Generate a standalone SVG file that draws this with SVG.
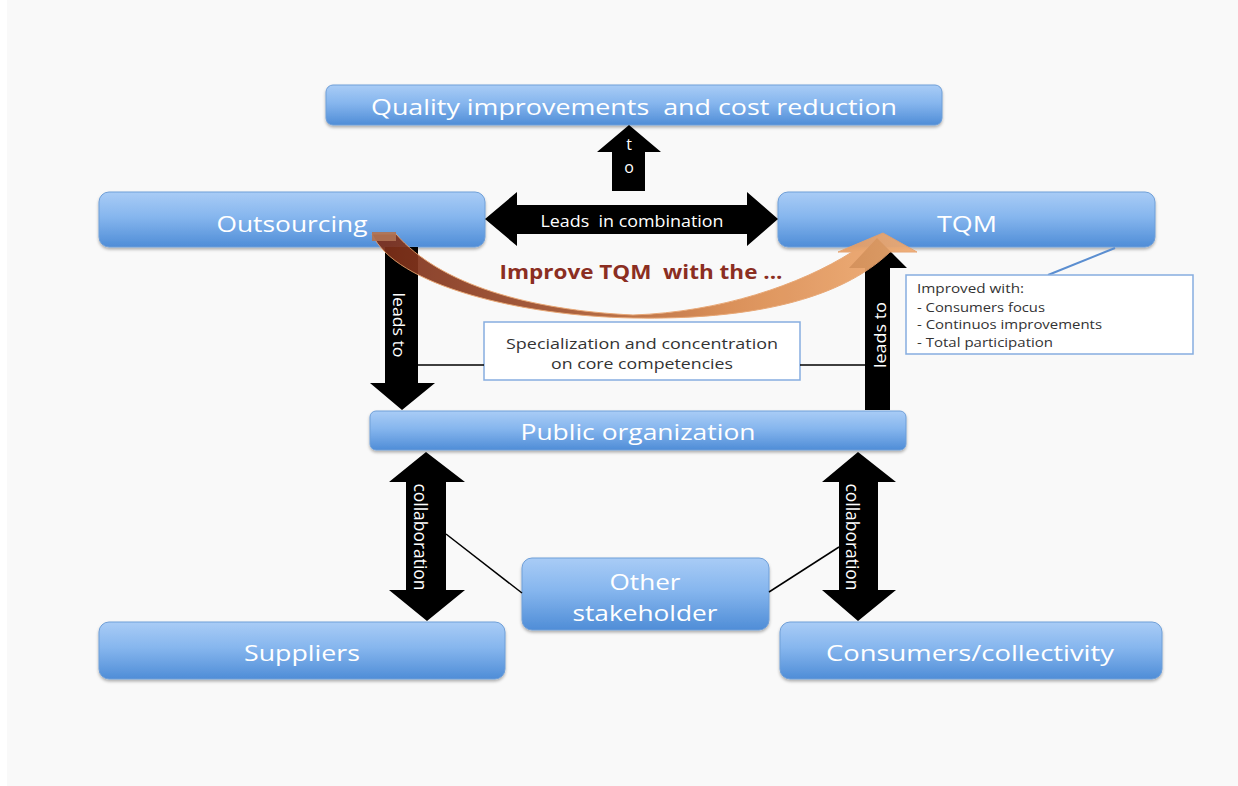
<svg xmlns="http://www.w3.org/2000/svg" width="1238" height="786" viewBox="0 0 1238 786">
<style>
text{white-space:pre}
.box{fill:url(#boxGrad);stroke:#6f9fd8;stroke-width:1;filter:url(#shadow)}
.wbox{fill:#ffffff;stroke:#86ade0;stroke-width:1.5}
.lbl{font-family:"Open Sans","Liberation Sans",sans-serif;fill:#ffffff;text-anchor:middle;font-size:21px}
.arr{fill:#000000}
.alb{font-family:"Open Sans","Liberation Sans",sans-serif;fill:#ffffff;text-anchor:middle;font-size:16px}
.note{font-family:"Open Sans","Liberation Sans",sans-serif;fill:#333333;font-size:15px}
.link{stroke:#000000;stroke-width:1.5;fill:none}
</style>
<defs>
<linearGradient id="boxGrad" x1="0" y1="0" x2="0" y2="1">
<stop offset="0" stop-color="#a9ccf6"/>
<stop offset="0.45" stop-color="#86b6ee"/>
<stop offset="1" stop-color="#4f8dd7"/>
</linearGradient>
<linearGradient id="curveGrad" gradientUnits="userSpaceOnUse" x1="372" y1="0" x2="917" y2="0">
<stop offset="0" stop-color="#7a2c18"/>
<stop offset="0.35" stop-color="#a3532e"/>
<stop offset="0.65" stop-color="#d8884c"/>
<stop offset="1" stop-color="#f0ab72"/>
</linearGradient>
<filter id="shadow" x="-5%" y="-20%" width="110%" height="150%">
<feDropShadow dx="0" dy="2" stdDeviation="1.5" flood-color="#000000" flood-opacity="0.3"/>
</filter>
</defs>
<rect x="7" y="0" width="1231" height="786" fill="#f9f9f9"/>

<g id="node-quality">
<rect class="box" x="326" y="85" width="616" height="40" rx="7"/>
<text class="lbl" x="634" y="115" textLength="526" lengthAdjust="spacingAndGlyphs">Quality improvements  and cost reduction</text>
</g>
<g id="node-outsourcing">
<rect class="box" x="99" y="192" width="386" height="55" rx="10"/>
<text class="lbl" x="292" y="232" textLength="151" lengthAdjust="spacingAndGlyphs">Outsourcing</text>
</g>
<g id="node-tqm">
<rect class="box" x="778" y="192" width="377" height="55" rx="10"/>
<text class="lbl" x="967" y="232" textLength="60" lengthAdjust="spacingAndGlyphs">TQM</text>
</g>
<g id="node-public">
<rect class="box" x="370" y="411" width="536" height="39" rx="6"/>
<text class="lbl" x="638" y="440" textLength="235" lengthAdjust="spacingAndGlyphs">Public organization</text>
</g>
<g id="node-other">
<rect class="box" x="522" y="558" width="247" height="72" rx="10"/>
<text class="lbl" x="645" y="590" textLength="71" lengthAdjust="spacingAndGlyphs">Other</text>
<text class="lbl" x="645" y="621" textLength="145" lengthAdjust="spacingAndGlyphs">stakeholder</text>
</g>
<g id="node-suppliers">
<rect class="box" x="99" y="622" width="406" height="57" rx="10"/>
<text class="lbl" x="302" y="661" textLength="116" lengthAdjust="spacingAndGlyphs">Suppliers</text>
</g>
<g id="node-consumers">
<rect class="box" x="780" y="622" width="382" height="57" rx="10"/>
<text class="lbl" x="970" y="661" textLength="288" lengthAdjust="spacingAndGlyphs">Consumers/collectivity</text>
</g>
<g id="node-specialization">
<rect class="wbox" x="484" y="322" width="316" height="58"/>
<text class="note" x="642" y="349" text-anchor="middle" textLength="272" lengthAdjust="spacingAndGlyphs">Specialization and concentration</text>
<text class="note" x="642" y="369" text-anchor="middle" textLength="182" lengthAdjust="spacingAndGlyphs">on core competencies</text>
</g>
<g id="node-improved">
<line x1="1048" y1="275" x2="1115" y2="248" stroke="#5b8ed0" stroke-width="2"/>
<rect class="wbox" x="906" y="275" width="287" height="79"/>
<text class="note" x="917" y="293" style="font-size:12.5px" textLength="107" lengthAdjust="spacingAndGlyphs">Improved with:</text>
<text class="note" x="917" y="312" style="font-size:12.5px" textLength="128" lengthAdjust="spacingAndGlyphs">- Consumers focus</text>
<text class="note" x="917" y="329" style="font-size:12.5px" textLength="185" lengthAdjust="spacingAndGlyphs">- Continuos improvements</text>
<text class="note" x="917" y="347" style="font-size:12.5px" textLength="136" lengthAdjust="spacingAndGlyphs">- Total participation</text>
</g>

<g id="connectors">
<line class="link" x1="418" y1="365" x2="484" y2="365"/>
<line class="link" x1="800" y1="365" x2="865" y2="365"/>
<line class="link" x1="446" y1="534" x2="522" y2="593"/>
<line class="link" x1="769" y1="592" x2="839" y2="547"/>

<polygon class="arr" points="629,125 661,152 645,152 645,191 612,191 612,152 597,152"/>
<text class="alb" x="629" y="150">t</text>
<text class="alb" x="629" y="173">o</text>

<polygon class="arr" points="485,219 517,192 517,205 747,205 747,192 778,219 747,246 747,234 517,234 517,246"/>
<text class="alb" x="632" y="227" textLength="183" lengthAdjust="spacingAndGlyphs">Leads  in combination</text>

<polygon class="arr" points="385,247 418,247 418,383 435,383 402,410 370,383 385,383"/>
<text class="alb" transform="translate(393,325) rotate(90)" x="0" y="0" style="font-size:17px" textLength="65" lengthAdjust="spacingAndGlyphs">leads to</text>

<polygon class="arr" points="865,410 865,268 849,268 877,238 907,268 890,268 890,410"/>
<text class="alb" transform="translate(886,335) rotate(-90)" x="0" y="0" style="font-size:17px" textLength="66" lengthAdjust="spacingAndGlyphs">leads to</text>

<polygon class="arr" points="426,452 465,482 446,482 446,590 465,590 427,621 389,590 406,590 406,482 389,482"/>
<text class="alb" transform="translate(414,537) rotate(90)" x="0" y="0" style="font-size:18px" textLength="107" lengthAdjust="spacingAndGlyphs">collaboration</text>

<polygon class="arr" points="858,452 896,482 878,482 878,590 896,590 858,621 822,590 839,590 839,482 822,482"/>
<text class="alb" transform="translate(846,537) rotate(90)" x="0" y="0" style="font-size:18px" textLength="107" lengthAdjust="spacingAndGlyphs">collaboration</text>

<path d="M 372,234 C 395,285 520,316 633,318 C 750,320 840,300 890,252 L 917,252 L 883,233 L 838,252 L 852,252 C 800,285 720,312 633,315 C 530,310 440,285 396,234 Z" fill="url(#curveGrad)" stroke="#e6a06a" stroke-width="1" opacity="0.92"/>
<rect x="372" y="232" width="24" height="9" fill="#b07252" opacity="0.9"/>
</g>

<text x="641" y="279" text-anchor="middle" font-family="'Open Sans','Liberation Sans',sans-serif" font-weight="bold" font-size="20" fill="#8b2e22" textLength="283" lengthAdjust="spacingAndGlyphs">Improve TQM  with the ...</text>
</svg>
